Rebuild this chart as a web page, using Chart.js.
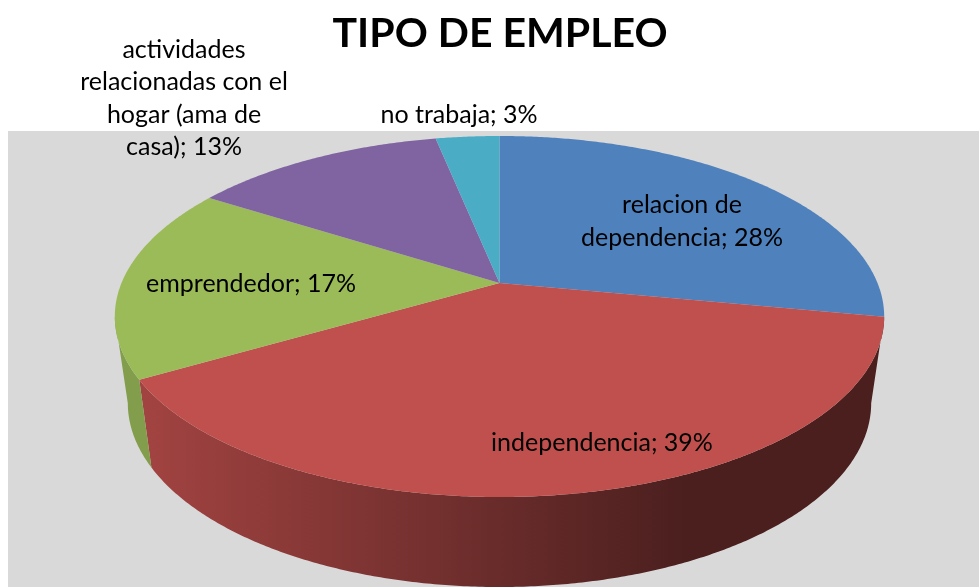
<!DOCTYPE html>
<html>
<head>
<meta charset="utf-8">
<style>html,body{margin:0;padding:0;background:#fff}canvas{display:block}</style>
<script src="https://cdn.jsdelivr.net/npm/chart.js@4"></script>
</head>
<body>
<canvas id="c" width="979" height="587"></canvas>
<script>
const TITLE = 'TIPO DE EMPLEO';
const categories = ['relacion de dependencia', 'independencia', 'emprendedor', 'actividades relacionadas con el hogar (ama de casa)', 'no trabaja'];
const values = [28, 38.6, 17.4, 12.8, 3.2];
const colors = ['#4f81bd', '#c0504d', '#9bbb59', '#8064a2', '#4bacc6'];
const labelLines = [
  ['relacion de', 'dependencia; 28%'],
  ['independencia; 39%'],
  ['emprendedor; 17%'],
  ['actividades', 'relacionadas con el', 'hogar (ama de', 'casa); 13%'],
  ['no trabaja; 3%']
];
const labelFont = '25px Lato';

/* perspective of the tilted disc */
const APEX = {x: 499.5, y: 283};
const K = 0.1856, RX = 378, RY = 174.3;
const TOP_E = {x: 499.5, y: 316.5, a: 385, b: 180.5};
const LOW_E = {x: 499.5, y: 403, a: 372, b: 184};
const LABEL_POS = [[682, 213, 33], [602, 451, 33], [251, 292, 33], [184, 58, 32.4], [459, 123, 33]];

function proj(angle) {
  const c = Math.cos(angle), s = Math.sin(angle), w = 1 - K * s;
  return {x: APEX.x + RX * c / w, y: APEX.y + RY * s / w};
}
function lower(p) {
  const ux = (p.x - TOP_E.x) / TOP_E.a, uy = (p.y - TOP_E.y) / TOP_E.b;
  return {x: LOW_E.x + LOW_E.a * ux, y: LOW_E.y + LOW_E.b * uy};
}
function shade(hex, f) {
  const n = parseInt(hex.slice(1), 16);
  return 'rgb(' + [(n >> 16) & 255, (n >> 8) & 255, n & 255].map(v => Math.round(v * f)).join(',') + ')';
}

const disc3d = {
  id: 'disc3d',
  beforeDraw(chart) {
    const ctx = chart.ctx;
    ctx.save();
    ctx.fillStyle = '#d9d9d9';
    ctx.fillRect(8, 131, chart.width - 8, chart.height - 131);
    ctx.restore();
  },
  beforeDatasetDraw(chart, args) {
    const ctx = chart.ctx, arcs = chart.getDatasetMeta(args.index).data;
    ctx.save();
    arcs.forEach(arc => {
      const col = arc.options.backgroundColor, top = [];
      const n = Math.ceil((arc.endAngle - arc.startAngle) * 120);
      for (let i = 0; i <= n; i++) {
        const p = proj(arc.startAngle + (arc.endAngle - arc.startAngle) * i / n);
        if (p.y >= TOP_E.y - 0.01) top.push(p);
      }
      if (top.length < 2) return;
      const g = ctx.createLinearGradient(148, 0, 690, 0);
      g.addColorStop(0, shade(col, 0.84));
      g.addColorStop(1, shade(col, 0.385));
      ctx.beginPath();
      top.forEach((p, i) => i ? ctx.lineTo(p.x, p.y) : ctx.moveTo(p.x, p.y));
      top.slice().reverse().map(lower).forEach(p => ctx.lineTo(p.x, p.y));
      ctx.closePath();
      ctx.fillStyle = g;
      ctx.fill();
    });
    arcs.forEach(arc => {
      const n = Math.ceil((arc.endAngle - arc.startAngle) * 120);
      ctx.beginPath();
      ctx.moveTo(APEX.x, APEX.y);
      for (let i = 0; i <= n; i++) {
        const p = proj(arc.startAngle + (arc.endAngle - arc.startAngle) * i / n);
        ctx.lineTo(p.x, p.y);
      }
      ctx.closePath();
      ctx.fillStyle = arc.options.backgroundColor;
      ctx.fill();
    });
    ctx.restore();
    return false;
  },
  afterDatasetsDraw(chart) {
    const ctx = chart.ctx;
    ctx.save();
    ctx.fillStyle = '#000';
    ctx.font = labelFont;
    ctx.textAlign = 'center';
    ctx.textBaseline = 'alphabetic';
    labelLines.forEach((lines, i) => {
      const [x, y, lh] = LABEL_POS[i];
      lines.forEach((t, j) => ctx.fillText(t, x, y + j * lh));
    });
    ctx.restore();
  }
};

new Chart(document.getElementById('c'), {
  type: 'pie',
  data: {labels: categories, datasets: [{data: values, backgroundColor: colors, borderWidth: 0}]},
  options: {
    responsive: false,
    animation: false,
    layout: {padding: {left: 21}},
    plugins: {
      legend: {display: false},
      tooltip: {enabled: false},
      title: {display: true, text: TITLE, color: '#000', font: {family: 'Lato', size: 41, weight: 'bold'}, padding: {top: 9, bottom: 0}}
    }
  },
  plugins: [disc3d]
});
</script>
</body>
</html>
